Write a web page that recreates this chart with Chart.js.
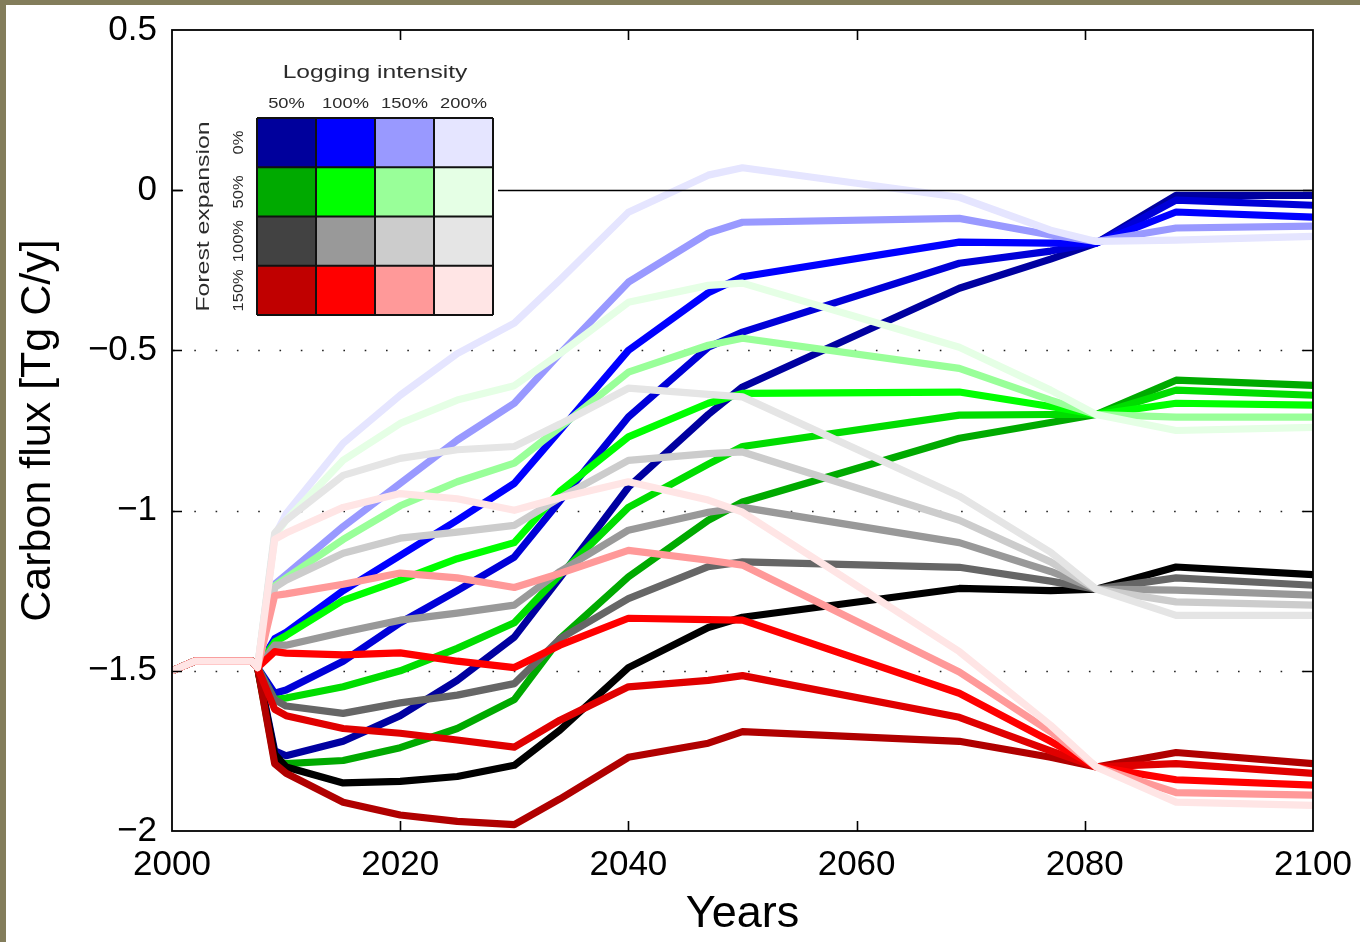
<!DOCTYPE html>
<html>
<head>
<meta charset="utf-8">
<script src="https://cdn.jsdelivr.net/npm/chart.js@4.4.1/dist/chart.umd.min.js"></script>
<style>
  html, body { margin: 0; padding: 0; width: 1360px; height: 942px; overflow: hidden; background: #837d5b; }
  #wrap { position: absolute; left: 6px; top: 5px; width: 1354px; height: 937px; background: #fff; }
  canvas { display: block; }
</style>
</head>
<body>
<div id="wrap"><canvas id="flux" width="1354" height="937"></canvas></div>
<script>
// Simulation years (x values shared by every scenario)
const YEARS = [2000, 2002, 2007, 2007.5, 2009, 2010, 2015, 2020, 2025, 2030, 2034, 2040, 2047, 2050, 2069, 2077, 2081, 2088, 2100];
// Common history before the scenarios diverge
const HISTORY = [-1.50, -1.47, -1.47, -1.49];

// Forest expansion 0 % (blue family), darkest to lightest
const BLUE_1 = [-1.75, -1.765, -1.72, -1.64, -1.53, -1.395, -1.21, -0.927, -0.70, -0.614, -0.306, -0.215, -0.165, -0.016, -0.016];
const BLUE_2 = [-1.57, -1.56, -1.47, -1.35, -1.25, -1.145, -0.97, -0.708, -0.49, -0.443, -0.228, -0.19, -0.165, -0.031, -0.047];
const BLUE_3 = [-1.40, -1.38, -1.25, -1.14, -1.03, -0.915, -0.75, -0.50, -0.32, -0.27, -0.162, -0.165, -0.165, -0.068, -0.084];
const BLUE_4 = [-1.23, -1.20, -1.05, -0.915, -0.78, -0.665, -0.51, -0.287, -0.134, -0.10, -0.088, -0.14, -0.16, -0.118, -0.112];
const BLUE_5 = [-1.08, -1.01, -0.79, -0.64, -0.51, -0.415, -0.28, -0.069, 0.047, 0.07, -0.022, -0.125, -0.16, -0.156, -0.144];

// Forest expansion 50 % (green family)
const GREEN_1 = [-1.78, -1.79, -1.78, -1.74, -1.68, -1.59, -1.40, -1.207, -1.03, -0.973, -0.774, -0.725, -0.70, -0.593, -0.609];
const GREEN_2 = [-1.59, -1.585, -1.55, -1.50, -1.43, -1.35, -1.20, -0.99, -0.855, -0.80, -0.702, -0.70, -0.70, -0.624, -0.64];
const GREEN_3 = [-1.41, -1.39, -1.28, -1.217, -1.15, -1.10, -0.94, -0.77, -0.665, -0.634, -0.63, -0.675, -0.70, -0.665, -0.671];
const GREEN_4 = [-1.235, -1.21, -1.09, -0.985, -0.91, -0.852, -0.74, -0.568, -0.484, -0.462, -0.556, -0.655, -0.70, -0.708, -0.708];
const GREEN_5 = [-1.08, -1.03, -0.843, -0.728, -0.655, -0.61, -0.51, -0.35, -0.297, -0.29, -0.49, -0.624, -0.70, -0.75, -0.74];

// Forest expansion 100 % (grey family)
const GREY_1 = [-1.76, -1.80, -1.85, -1.845, -1.83, -1.795, -1.685, -1.49, -1.365, -1.333, -1.243, -1.25, -1.245, -1.176, -1.20];
const GREY_2 = [-1.59, -1.61, -1.633, -1.60, -1.576, -1.54, -1.40, -1.275, -1.175, -1.16, -1.177, -1.22, -1.245, -1.21, -1.233];
const GREY_3 = [-1.42, -1.42, -1.38, -1.342, -1.32, -1.295, -1.19, -1.061, -1.005, -0.99, -1.10, -1.19, -1.245, -1.248, -1.264];
const GREY_4 = [-1.24, -1.217, -1.133, -1.086, -1.067, -1.046, -0.96, -0.843, -0.822, -0.817, -1.03, -1.16, -1.245, -1.285, -1.295];
const GREY_5 = [-1.07, -1.03, -0.89, -0.837, -0.81, -0.80, -0.73, -0.618, -0.637, -0.645, -0.955, -1.13, -1.245, -1.327, -1.327];

// Forest expansion 150 % (red family)
const RED_1 = [-1.79, -1.82, -1.91, -1.95, -1.97, -1.98, -1.90, -1.77, -1.726, -1.69, -1.72, -1.77, -1.80, -1.755, -1.79];
const RED_2 = [-1.62, -1.64, -1.68, -1.695, -1.716, -1.738, -1.654, -1.55, -1.53, -1.515, -1.645, -1.75, -1.80, -1.79, -1.82];
const RED_3 = [-1.44, -1.445, -1.45, -1.444, -1.47, -1.49, -1.42, -1.336, -1.34, -1.342, -1.57, -1.72, -1.80, -1.84, -1.857];
const RED_4 = [-1.265, -1.26, -1.23, -1.195, -1.21, -1.24, -1.196, -1.124, -1.155, -1.17, -1.504, -1.69, -1.80, -1.88, -1.888];
const RED_5 = [-1.09, -1.07, -0.99, -0.947, -0.963, -0.999, -0.96, -0.91, -0.967, -1.005, -1.44, -1.67, -1.80, -1.91, -1.92];

// Line colours per family, darkest to lightest
const BLUE_LINES  = ['#0000a0', '#0000d8', '#0000ff', '#9999ff', '#e5e5ff'];
const GREEN_LINES = ['#00aa00', '#00dd00', '#00ff00', '#99ff99', '#e5ffe5'];
const GREY_LINES  = ['#000000', '#666666', '#999999', '#cccccc', '#e5e5e5'];
const RED_LINES   = ['#b00000', '#e00000', '#ff0000', '#ff9999', '#ffe5e5'];

// Key inset: rows = forest expansion, columns = logging intensity
const LOGGING_LEVELS = ['50%', '100%', '150%', '200%'];
const EXPANSION_LEVELS = ['0%', '50%', '100%', '150%'];
const KEY_COLOURS = [
  ['#00009c', '#0000ff', '#9999ff', '#e5e5ff'],
  ['#00aa00', '#00ff00', '#99ff99', '#e5ffe5'],
  ['#424242', '#999999', '#cccccc', '#e5e5e5'],
  ['#c00000', '#ff0000', '#ff9999', '#ffe5e5']
];

const FAMILIES = [
  { colours: BLUE_LINES,  series: [BLUE_1, BLUE_2, BLUE_3, BLUE_4, BLUE_5] },
  { colours: GREEN_LINES, series: [GREEN_1, GREEN_2, GREEN_3, GREEN_4, GREEN_5] },
  { colours: GREY_LINES,  series: [GREY_1, GREY_2, GREY_3, GREY_4, GREY_5] },
  { colours: RED_LINES,   series: [RED_1, RED_2, RED_3, RED_4, RED_5] }
];

const datasets = [];
FAMILIES.forEach((fam, f) => {
  fam.series.forEach((vals, k) => {
    const full = HISTORY.concat(vals);
    datasets.push({
      label: EXPANSION_LEVELS[f] + ' / ' + k,
      data: YEARS.map((yr, i) => ({ x: yr, y: full[i] })),
      borderColor: fam.colours[k],
      backgroundColor: fam.colours[k],
      borderWidth: 7.2,
      borderJoinStyle: 'round',
      borderCapStyle: 'butt',
      pointRadius: 0,
      tension: 0,
      fill: false
    });
  });
});
// later families / lighter shades are painted on top
datasets.forEach((d, i) => { d.order = datasets.length - 1 - i; });

const FONT = "'Liberation Sans', Arial, Helvetica, sans-serif";

// keep the plot box fixed: no extra room reserved for end labels
const fixBox = (s, size) => {
  if (s.isHorizontal()) s.height = size; else s.width = size;
  s.paddingTop = 0; s.paddingBottom = 0; s.paddingLeft = 0; s.paddingRight = 0;
};

// Box frame, inward ticks, dotted reference levels, zero line and key
const framePlugin = {
  id: 'matFrame',
  beforeDatasetsDraw(chart) {
    const { ctx, chartArea: a, scales: { y } } = chart;
    ctx.save();
    ctx.strokeStyle = '#222';
    ctx.lineWidth = 1.6;
    ctx.setLineDash([1.6, 19.7]);
    y.ticks.forEach(t => {
      if (t.value === 0 || t.value === y.min || t.value === y.max) return;
      const py = Math.round(y.getPixelForValue(t.value)) + 0.5;
      ctx.beginPath();
      ctx.moveTo(a.left + 1, py);
      ctx.lineTo(a.right, py);
      ctx.stroke();
    });
    ctx.restore();
  },
  afterDatasetsDraw(chart) {
    const { ctx, chartArea: a, scales: { x, y } } = chart;
    ctx.save();
    // zero flux line
    const y0 = Math.round(y.getPixelForValue(0)) + 0.5;
    ctx.strokeStyle = '#000';
    ctx.lineWidth = 1.5;
    ctx.beginPath();
    ctx.moveTo(a.left, y0);
    ctx.lineTo(a.right, y0);
    ctx.stroke();
    // frame
    ctx.lineWidth = 1.8;
    ctx.strokeRect(a.left, a.top, a.right - a.left, a.bottom - a.top);
    // inward ticks
    const TL = 10;
    ctx.lineWidth = 1.6;
    ctx.beginPath();
    x.ticks.forEach(t => {
      if (t.value === x.min || t.value === x.max) return;
      const px = Math.round(x.getPixelForValue(t.value)) + 0.5;
      ctx.moveTo(px, a.bottom); ctx.lineTo(px, a.bottom - TL);
      ctx.moveTo(px, a.top); ctx.lineTo(px, a.top + TL);
    });
    y.ticks.forEach(t => {
      if (t.value === y.min || t.value === y.max) return;
      const py = Math.round(y.getPixelForValue(t.value)) + 0.5;
      ctx.moveTo(a.left, py); ctx.lineTo(a.left + TL, py);
      ctx.moveTo(a.right, py); ctx.lineTo(a.right - TL, py);
    });
    ctx.stroke();
    ctx.restore();
  },
  afterDraw(chart) {
    const { ctx } = chart;
    ctx.save();
    // key background
    ctx.fillStyle = '#fff';
    ctx.fillRect(177, 44, 315, 273);

    const gx = 251, gy = 113, cw = 59, ch = 49.25;
    // coloured cells
    KEY_COLOURS.forEach((row, r) => {
      row.forEach((col, c) => {
        ctx.fillStyle = col;
        ctx.fillRect(gx + c * cw, gy + r * ch, cw, ch);
      });
    });
    ctx.strokeStyle = '#111';
    ctx.lineWidth = 2;
    for (let c = 0; c <= 4; c++) {
      ctx.beginPath(); ctx.moveTo(gx + c * cw, gy); ctx.lineTo(gx + c * cw, gy + 4 * ch); ctx.stroke();
    }
    for (let r = 0; r <= 4; r++) {
      ctx.beginPath(); ctx.moveTo(gx, gy + r * ch); ctx.lineTo(gx + 4 * cw, gy + r * ch); ctx.stroke();
    }

    ctx.fillStyle = '#2b2b2b';
    ctx.textBaseline = 'alphabetic';
    ctx.textAlign = 'center';
    const stretched = (txt, px, py, size, sx, rot) => {
      ctx.save();
      ctx.translate(px, py);
      if (rot) ctx.rotate(rot);
      ctx.scale(sx, 1);
      ctx.font = size + 'px ' + FONT;
      ctx.fillText(txt, 0, 0);
      ctx.restore();
    };
    stretched('Logging intensity', gx + 2 * cw, 73, 18.5, 1.33, 0);
    LOGGING_LEVELS.forEach((t, c) => stretched(t, gx + (c + 0.5) * cw, 103, 15, 1.22, 0));
    EXPANSION_LEVELS.forEach((t, r) => stretched(t, 237, gy + (r + 0.5) * ch, 15, 1.1, -Math.PI / 2));
    stretched('Forest expansion', 203, gy + 2 * ch, 18.5, 1.34, -Math.PI / 2);
    ctx.restore();
  }
};

new Chart(document.getElementById('flux'), {
  type: 'line',
  data: { datasets },
  options: {
    responsive: false,
    animation: false,
    devicePixelRatio: 1,
    layout: { padding: { left: 0, top: 25, right: 47, bottom: 0 } },
    plugins: { legend: { display: false }, tooltip: { enabled: false } },
    scales: {
      x: {
        type: 'linear',
        min: 2000, max: 2100,
        grid: { display: false, drawTicks: false },
        border: { display: false },
        ticks: {
          stepSize: 20, padding: 13, color: '#000',
          font: { family: FONT, size: 35 },
          maxRotation: 0,
          callback: v => String(v)
        },
        title: { display: true, text: 'Years', color: '#000', font: { family: FONT, size: 45 }, padding: { top: 0, bottom: 0 } },
        afterFit: s => fixBox(s, 111)
      },
      y: {
        min: -2, max: 0.5,
        grid: { display: false, drawTicks: false },
        border: { display: false },
        ticks: {
          stepSize: 0.5, padding: 15, color: '#000',
          font: { family: FONT, size: 35 },
          callback: v => (v < 0 ? '\u2212' + Math.abs(v) : String(v))
        },
        title: { display: true, text: 'Carbon flux [Tg C/y]', color: '#000', font: { family: FONT, size: 43 }, padding: { top: 6, bottom: 0 } },
        afterFit: s => fixBox(s, 166)
      }
    }
  },
  plugins: [framePlugin]
});
</script>
</body>
</html>
